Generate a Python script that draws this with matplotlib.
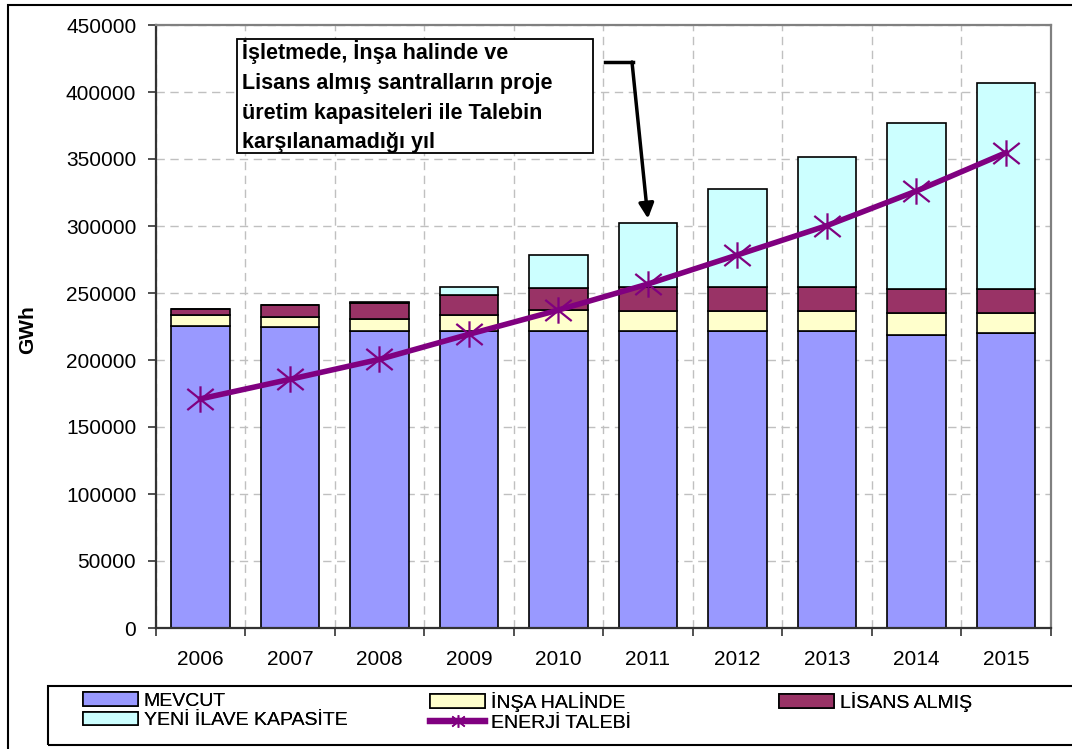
import matplotlib
matplotlib.use('Agg')
import matplotlib.pyplot as plt
import numpy as np
from matplotlib.path import Path
from matplotlib.patches import Patch, Rectangle
from matplotlib.lines import Line2D

plt.rcParams['font.family'] = ['Liberation Sans', 'DejaVu Sans']

years = ['2006', '2007', '2008', '2009', '2010', '2011', '2012', '2013', '2014', '2015']
mevcut = [225400, 224400, 221400, 221400, 221400, 221600, 221600, 221600, 218400, 219900]
insa = [8000, 7500, 9000, 12000, 15600, 15000, 15000, 15000, 16400, 14900]
lisans = [4500, 9000, 11900, 14900, 17000, 17700, 17700, 17700, 18200, 18200]
yeni = [0, 0, 1200, 6400, 24600, 47700, 73100, 97000, 123900, 153500]
talep = [171000, 185600, 200500, 219200, 237300, 256700, 278400, 300300, 326100, 354700]

c_mevcut = '#9999FF'
c_insa = '#FFFFCC'
c_lisans = '#993366'
c_yeni = '#CCFFFF'
c_talep = '#800080'

W, H = 1072, 749
fig = plt.figure(figsize=(W / 100, H / 100), dpi=100)
ax = fig.add_axes([155.7 / W, 121 / H, 895 / W, 603 / H])

x = np.arange(len(years))
bw = 0.655
ekw = dict(edgecolor='black', linewidth=1.2, zorder=2)
ax.bar(x, mevcut, bw, color=c_mevcut, **ekw)
bot = np.array(mevcut)
ax.bar(x, insa, bw, bottom=bot, color=c_insa, **ekw)
bot = bot + np.array(insa)
ax.bar(x, lisans, bw, bottom=bot, color=c_lisans, **ekw)
bot = bot + np.array(lisans)
ax.bar(x, yeni, bw, bottom=bot, color=c_yeni, **ekw)

# asterisk marker: vertical bar plus an X
star = Path([(0, -1), (0, 1), (-1, -0.8), (1, 0.8), (-1, 0.8), (1, -0.8)],
            [Path.MOVETO, Path.LINETO, Path.MOVETO, Path.LINETO, Path.MOVETO, Path.LINETO])
ax.plot(x, talep, color=c_talep, lw=4, marker=star, markersize=19,
        markeredgewidth=1.6, markeredgecolor=c_talep, zorder=4)

ax.set_xlim(-0.5, 9.5)
ax.set_ylim(0, 450000)
ax.set_yticks(np.arange(0, 450001, 50000))
ax.set_xticks(np.arange(-0.5, 10, 1))
ax.set_xticklabels([])
ax.set_xticks(x, minor=True)
ax.set_xticklabels(years, minor=True)
ax.tick_params(axis='x', which='minor', length=0, pad=16, labelsize=15)
ax.tick_params(axis='x', which='major', length=6, width=1.2, color='#333333', direction='out')
ax.tick_params(axis='y', length=6, width=1.2, color='#333333', direction='out', pad=8, labelsize=15)

ax.set_axisbelow(True)
ax.grid(True, which='major', color='#c0c0c0', linestyle=(0, (6, 4)), linewidth=1)
for s in ['left', 'bottom']:
    ax.spines[s].set_color('#333333')
    ax.spines[s].set_linewidth(1.6)
for s in ['top', 'right']:
    ax.spines[s].set_color('#808080')
    ax.spines[s].set_linewidth(1.6)

fig.text(28 / W, 1 - 330 / H, 'GWh', rotation=90, fontsize=15, fontweight='bold',
         ha='center', va='center')

# callout box and arrow
fig.add_artist(Rectangle((237 / W, 1 - 153 / H), 356 / W, 114 / H, transform=fig.transFigure,
                         fc='white', ec='black', lw=1.3, zorder=5))
fig.text(242 / W, 1 - 40 / H,
         'İşletmede, İnşa halinde ve\nLisans almış santralların proje\n'
         'üretim kapasiteleri ile Talebin\nkarşılanamadığı yıl',
         fontsize=15.5, fontweight='bold', ha='left', va='top', linespacing=1.55, zorder=6)
fig.add_artist(Line2D([605 / W, 633 / W], [1 - 62 / H, 1 - 62 / H], color='black', lw=2.5))
ax.annotate('', xy=(5, 305500), xycoords='data',
            xytext=(632 / W, 1 - 62 / H), textcoords='figure fraction',
            arrowprops=dict(arrowstyle='-|>,head_length=0.9,head_width=0.45',
                            color='black', lw=2.5, shrinkA=0, shrinkB=0))

# outer chart border and legend frame
fig.add_artist(Rectangle((8 / W, -0.05), 1.1, 1 - 5 / H + 0.05, transform=fig.transFigure,
                         fill=False, ec='black', lw=1.5))
fig.add_artist(Rectangle((48 / W, 1 - 745 / H), 1.1, 59 / H, transform=fig.transFigure,
                         fill=False, ec='black', lw=1.5))

def mk(p):
    return Patch(facecolor=p, edgecolor='black', linewidth=1.2)

lh = Line2D([], [], color=c_talep, lw=4.5, marker=star, markersize=9,
            markeredgewidth=1.2, markeredgecolor=c_talep)
cols = [
    (83, [mk(c_mevcut), mk(c_yeni)], ['MEVCUT', 'YENİ İLAVE KAPASİTE']),
    (430, [mk(c_insa), lh], ['İNŞA HALİNDE', 'ENERJİ TALEBİ']),
    (779, [mk(c_lisans)], ['LİSANS ALMIŞ']),
]
for xp, hs, ls in cols:
    leg = fig.legend(hs, ls, loc='upper left', bbox_to_anchor=(xp / W, 1 - 692 / H),
                     frameon=False, borderpad=0, borderaxespad=0, fontsize=14,
                     handlelength=2.83, handleheight=0.7, handletextpad=0.3,
                     labelspacing=0.1)
    fig.add_artist(leg)

fig.savefig('out.png', dpi=100)
